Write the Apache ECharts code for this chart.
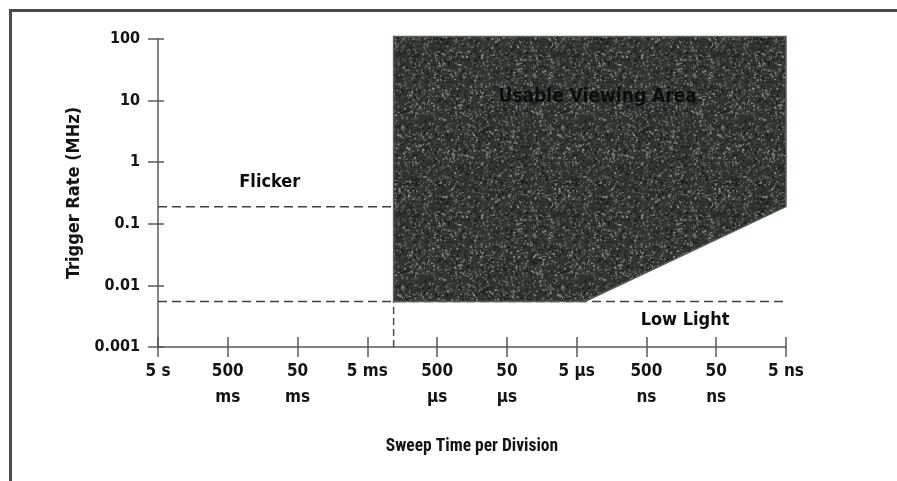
<!DOCTYPE html>
<html>
<head>
<meta charset="utf-8">
<script src="https://cdn.jsdelivr.net/npm/echarts@6/dist/echarts.min.js"></script>
<style>
  html, body { margin: 0; padding: 0; background: #fff; }
  #frame { position: absolute; left: 9px; top: 9px; width: 900px; height: 480px;
           border-top: 3px solid #4a4c44; border-left: 3px solid #4a4c44; }
  #chart { position: absolute; left: 0; top: 0; width: 897px; height: 481px; }
</style>
</head>
<body>
<div id="frame"></div>
<div id="chart"></div>
<script>
// Sweep time per division, in seconds (x axis ticks, one per decade)
const xTickSeconds = [5, 0.5, 0.05, 0.005, 5e-4, 5e-5, 5e-6, 5e-7, 5e-8, 5e-9];
const xTickLabels = ['5 s', '500\nms', '50\nms', '5 ms', '500\nμs', '50\nμs', '5 μs', '500\nns', '50\nns', '5 ns'];
// Trigger rate axis (MHz)
const yTickValues = [0.001, 0.01, 0.1, 1, 10, 100];
const yTickLabels = ['0.001', '0.01', '0.1', '1', '10', '100'];

// Usable viewing area outline: sweep time (s) and trigger rate (MHz)
const areaSweep = [2.1e-3, 2.1e-3, 3.8e-6, 5e-9, 5e-9];
const areaRate  = [110, 0.0055, 0.0055, 0.19, 110];

// Flicker threshold (dashed) and low light threshold (dashed)
const flickerSweep = [5, 2.1e-3];
const flickerRate  = [0.19, 0.19];
const lowLightSweep = [5, 5e-9];
const lowLightRate  = [0.0055, 0.0055];
const limitSweep = [2.1e-3, 2.1e-3];
const limitRate  = [0.001, 0.0055];

// Text annotations: [sweep (s), rate (MHz), text]
const annotations = [
  [0.125, 0.47, 'Flicker'],
  [1.4e-7, 0.0027, 'Low Light'],
  [2.5e-6, 11.5, 'Usable Viewing Area']
];

// Sweep time -> division index on the axis (decades from 5 s)
const div = t => Math.log10(xTickSeconds[0] / t);
const pairs = (xs, ys) => xs.map((x, i) => [div(x), ys[i]]);

// Speckled texture for the shaded area
function makeTexture() {
  const c = document.createElement('canvas');
  c.width = 160; c.height = 160;
  const g = c.getContext('2d');
  g.fillStyle = '#2f342f';
  g.fillRect(0, 0, 160, 160);
  let s = 12345;
  const rnd = () => { s = (s * 1103515245 + 12345) & 0x7fffffff; return s / 0x7fffffff; };
  for (let i = 0; i < 4800; i++) {
    const x = rnd() * 160, y = rnd() * 160, r = rnd();
    g.fillStyle = r < 0.3 ? '#838982' : (r < 0.65 ? '#535a52' : '#1a1d1a');
    g.fillRect(x, y, 1 + (rnd() < 0.4 ? 1 : 0), 1 + (rnd() < 0.4 ? 1 : 0));
  }
  return c;
}
const texture = makeTexture();

const FONT = '"DejaVu Sans Condensed", sans-serif';
const NARROW = '"Roboto Condensed", "DejaVu Sans Condensed", sans-serif';
const chart = echarts.init(document.getElementById('chart'));

const xBase = {
  type: 'value', min: 0, max: 9, interval: 1,
  splitLine: { show: false }
};
const yBase = {
  type: 'log', logBase: 10, min: 0.001, max: 100,
  splitLine: { show: false }
};

chart.setOption({
  animation: false,
  grid: { left: 158, right: 111, top: 39, bottom: 134 },
  xAxis: [
    Object.assign({}, xBase, {
      position: 'bottom',
      name: 'Sweep Time per Division', nameLocation: 'middle', nameGap: 100,
      nameTextStyle: { fontFamily: NARROW, fontWeight: 'bold', fontSize: 17.5, color: '#141414', verticalAlign: 'middle' },
      axisLine: { lineStyle: { color: '#5a5a58', width: 1.5 } },
      axisTick: { length: 10, lineStyle: { color: '#5a5a58', width: 1.5 } },
      axisLabel: {
        margin: 12, fontFamily: FONT, fontWeight: 'bold', fontSize: 17, color: '#141414', lineHeight: 26,
        verticalAlign: 'top',
        formatter: v => xTickLabels[Math.round(v)]
      }
    }),
    Object.assign({}, xBase, {
      position: 'bottom', offset: 0,
      axisLine: { show: false },
      axisTick: { inside: true, length: 10, lineStyle: { color: '#5a5a58', width: 1.5 } },
      axisLabel: { show: false }
    })
  ],
  yAxis: [
    Object.assign({}, yBase, {
      position: 'left',
      name: 'Trigger Rate (MHz)', nameLocation: 'middle', nameGap: 62,
      nameTextStyle: { fontFamily: FONT, fontWeight: 'bold', fontSize: 18, color: '#141414' },
      axisLine: { lineStyle: { color: '#5a5a58', width: 1.5 } },
      axisTick: { length: 10, lineStyle: { color: '#5a5a58', width: 1.5 } },
      axisLabel: {
        margin: 18, fontFamily: FONT, fontWeight: 'bold', fontSize: 16, color: '#141414',
        formatter: v => { const i = yTickValues.findIndex(t => Math.abs(Math.log10(t) - Math.log10(v)) < 1e-6); return i >= 0 ? yTickLabels[i] : ''; }
      }
    }),
    Object.assign({}, yBase, {
      position: 'left', offset: 0,
      axisLine: { show: false },
      axisTick: { inside: true, length: 6, lineStyle: { color: '#5a5a58', width: 1.5 } },
      axisLabel: { show: false }
    })
  ],
  series: [
    {
      type: 'line', data: pairs(lowLightSweep, lowLightRate), symbol: 'none', z: 1,
      lineStyle: { color: '#3c423e', width: 1.5, type: [9, 5] }
    },
    {
      type: 'line', data: pairs(flickerSweep, flickerRate), symbol: 'none', z: 1,
      lineStyle: { color: '#3c423e', width: 1.5, type: [9, 5] }
    },
    {
      type: 'line', data: pairs(limitSweep, limitRate), symbol: 'none', z: 1,
      lineStyle: { color: '#4a4e4a', width: 1.5, type: [7, 4] }
    },
    {
      type: 'custom', z: 3,
      data: [0],
      renderItem: (params, api) => {
        const pts = pairs(areaSweep, areaRate).map(p => api.coord(p));
        return {
          type: 'polygon',
          shape: { points: pts },
          style: { fill: { image: texture, repeat: 'repeat' }, stroke: '#5a6059', lineWidth: 1.5 }
        };
      }
    },
    {
      type: 'custom', z: 5, silent: true,
      data: annotations.map(a => [div(a[0]), a[1]]),
      renderItem: (params, api) => {
        const p = api.coord([api.value(0), api.value(1)]);
        const a = annotations[params.dataIndex];
        return {
          type: 'text', x: p[0], y: p[1],
          style: {
            text: a[2], fill: '#0c0c0c', align: 'center', verticalAlign: 'middle',
            font: 'bold ' + (params.dataIndex === 2 ? 19 : 18) + 'px ' + FONT
          }
        };
      }
    }
  ]
});
</script>
</body>
</html>
